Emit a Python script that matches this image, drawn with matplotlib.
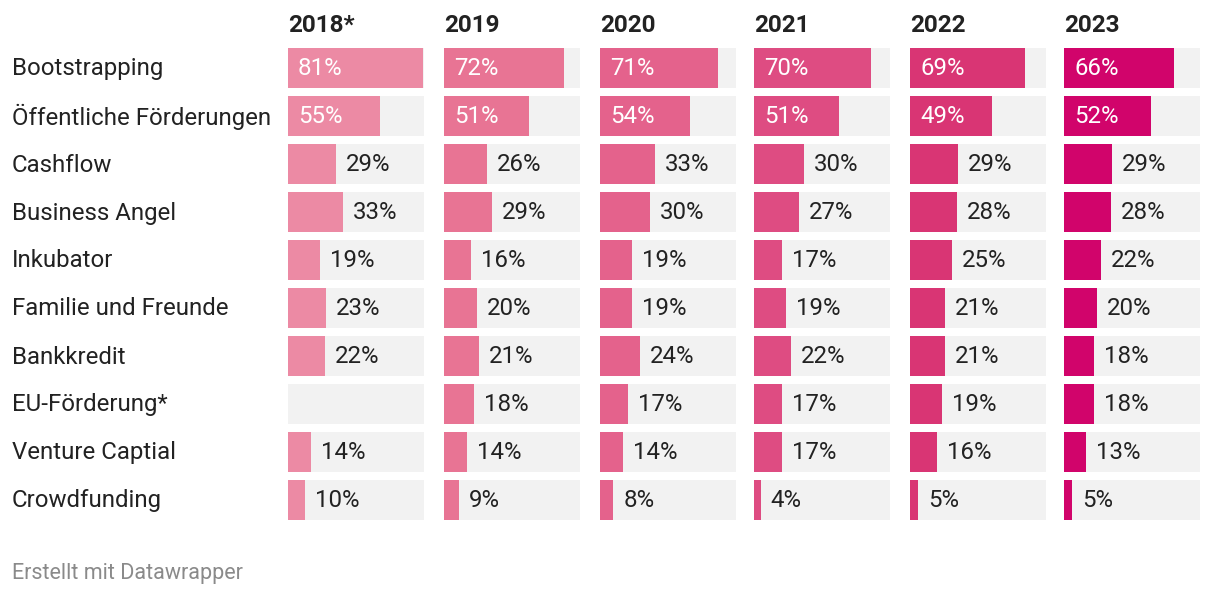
import numpy as np
import matplotlib.pyplot as plt

plt.rcParams['font.family'] = ['Roboto', 'DejaVu Sans']

categories = ["Bootstrapping", "Öffentliche Förderungen", "Cashflow", "Business Angel",
              "Inkubator", "Familie und Freunde", "Bankkredit", "EU-Förderung*",
              "Venture Captial", "Crowdfunding"]
years = ["2018*", "2019", "2020", "2021", "2022", "2023"]
v2018 = [81, 55, 29, 33, 19, 23, 22, np.nan, 14, 10]
v2019 = [72, 51, 26, 29, 16, 20, 21, 18, 14, 9]
v2020 = [71, 54, 33, 30, 19, 19, 24, 17, 14, 8]
v2021 = [70, 51, 30, 27, 17, 19, 22, 17, 17, 4]
v2022 = [69, 49, 29, 28, 25, 21, 21, 19, 16, 5]
v2023 = [66, 52, 29, 28, 22, 20, 18, 18, 13, 5]
series = [v2018, v2019, v2020, v2021, v2022, v2023]
colors = ["#ec8aa4", "#e87494", "#e4628c", "#de4c82", "#d93574", "#d1046b"]

W, H = 1220, 596
fig = plt.figure(figsize=(W / 100, H / 100), dpi=100)
col_left = [288, 444, 600, 754, 910, 1064]
col_w = 136
top, bottom = 44, 524
vmax = 81.6
y = np.arange(len(categories))
fs = 17.3

for k, vals in enumerate(series):
    ax = fig.add_axes([col_left[k] / W, 1 - bottom / H, col_w / W, (bottom - top) / H])
    ax.barh(y, [vmax] * len(y), height=40 / 48, color="#f2f2f2")
    ax.barh(y, np.nan_to_num(vals), height=40 / 48, color=colors[k])
    for i, v in enumerate(vals):
        if np.isnan(v):
            continue
        if v > 40:
            ax.text(10 / col_w * vmax, i + 0.02, f"{v:.0f}%", color="white", fontsize=fs,
                    va="center", ha="left")
        else:
            ax.text(v + 10 / col_w * vmax, i + 0.02, f"{v:.0f}%", color="#222222", fontsize=fs,
                    va="center", ha="left")
    ax.set_xlim(0, vmax)
    ax.set_ylim(len(y) - 0.5, -0.5)
    ax.axis("off")
    fig.text(col_left[k] / W, 1 - 25 / H, years[k], fontsize=17.5, fontweight="bold",
             color="#222222", va="center", ha="left")

for i, c in enumerate(categories):
    fig.text(12 / W, 1 - (69 + 48 * i) / H, c, fontsize=fs, color="#222222",
             va="center", ha="left")

fig.text(12 / W, 1 - 573 / H, "Erstellt mit Datawrapper", fontsize=15.5, color="#8a8a8a",
         va="center", ha="left")

fig.savefig("out.png", dpi=100)
